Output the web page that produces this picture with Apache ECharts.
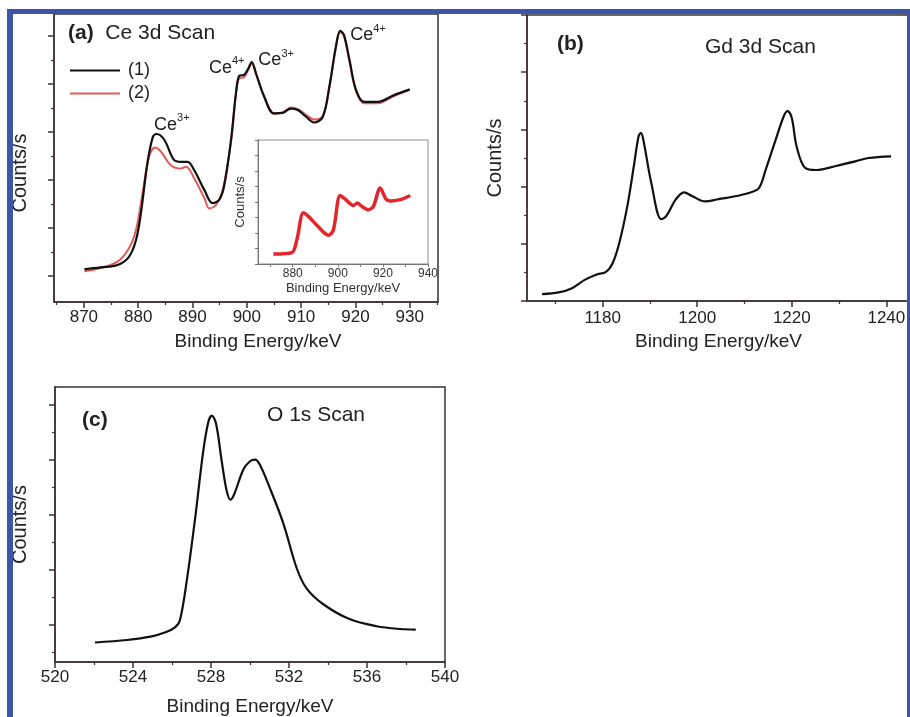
<!DOCTYPE html>
<html>
<head>
<meta charset="utf-8">
<script src="https://cdn.jsdelivr.net/npm/echarts@6.0.0/dist/echarts.min.js"></script>
<style>
  html, body { margin: 0; padding: 0; background: #fff; }
  #chart { width: 910px; height: 717px; }
</style>
</head>
<body>
<div id="chart"></div>
<script>
// (a) Ce 3d, curve (1) black and (2) red
const ceEnergy1 = [870.1, 873.1, 876.2, 878.3, 879.6, 880.5, 881.7, 882.7, 883.4, 884.8, 886.6, 887.9, 889.1, 890.3, 892.2, 893.7, 894.9, 895.8, 897.1, 898.0, 898.6, 899.5, 900.3, 900.9, 901.7, 903.2, 905.0, 906.6, 908.1, 909.4, 910.9, 912.4, 914.0, 915.2, 916.4, 917.2, 917.9, 918.9, 920.1, 921.6, 924.1, 927.1, 930.0];
const ceCounts1 = [0.68, 0.72, 0.77, 0.94, 1.29, 1.85, 2.89, 3.44, 3.50, 3.38, 2.96, 2.92, 2.92, 2.75, 2.33, 2.06, 2.13, 2.40, 3.38, 4.35, 4.71, 4.73, 4.87, 5.00, 4.76, 4.28, 3.93, 3.94, 4.03, 4.00, 3.86, 3.74, 3.86, 4.49, 5.32, 5.65, 5.56, 5.04, 4.42, 4.17, 4.17, 4.31, 4.43];
const ceEnergy2 = [870.1, 873.1, 876.2, 878.3, 879.6, 880.8, 882.0, 883.1, 884.2, 886.0, 887.9, 888.8, 890.3, 892.2, 893.1, 894.3, 895.5, 897.1, 898.0, 898.6, 899.5, 900.3, 900.9, 901.7, 903.2, 905.0, 906.6, 908.1, 909.4, 910.9, 912.4, 914.0, 915.2, 916.4, 917.2, 917.9, 918.9, 920.1, 921.6, 924.1, 927.1, 930.0];
const ceCounts2 = [0.64, 0.71, 0.84, 1.12, 1.50, 2.26, 3.03, 3.22, 3.13, 2.85, 2.78, 2.82, 2.58, 2.16, 1.95, 2.02, 2.30, 3.35, 4.33, 4.66, 4.68, 4.85, 4.98, 4.75, 4.27, 3.92, 3.95, 4.05, 4.02, 3.90, 3.80, 3.88, 4.47, 5.30, 5.63, 5.54, 5.02, 4.40, 4.14, 4.14, 4.29, 4.42];
const ceTicks = [870, 880, 890, 900, 910, 920, 930];
const ceMinorTicks = [865, 875, 885, 895, 905, 915, 925, 935];
const ceCountTicks = [0.54, 1.54, 2.54, 3.54, 4.54, 5.54];
const ceCountMinorTicks = [1.04, 2.04, 3.04, 4.04, 5.04];

// peak labels in (a)
const peakIon = ["3+", "4+", "3+", "4+"];
const peakEnergy = [886.2, 896.3, 905.4, 922.3];
const peakCounts = [3.69, 4.88, 5.04, 5.56];

// inset of (a)
const insetEnergy = [871.4, 879.6, 881.8, 884.7, 886.9, 890.7, 895.8, 898.0, 901.0, 903.2, 906.9, 908.7, 910.6, 913.6, 915.8, 918.8, 921.3, 923.2, 927.7, 932.1];
const insetCounts = [0.64, 0.73, 1.54, 3.30, 3.08, 2.50, 1.86, 2.18, 4.42, 4.20, 3.78, 3.93, 3.72, 3.50, 3.72, 4.91, 4.20, 4.06, 4.15, 4.42];
const insetTicks = [880, 900, 920, 940];
const insetMinorTicks = [870, 890, 910, 930];

// (b) Gd 3d
const gdEnergy = [1167.2, 1170.7, 1173.4, 1176.2, 1178.6, 1180.7, 1182.1, 1183.5, 1185.2, 1186.6, 1187.6, 1188.1, 1188.6, 1190.3, 1192.4, 1193.4, 1195.5, 1197.2, 1199.0, 1201.7, 1204.5, 1208.6, 1211.4, 1213.1, 1214.5, 1216.6, 1218.3, 1219.1, 1220.0, 1221.0, 1222.8, 1225.2, 1229.3, 1233.4, 1236.2, 1241.0];
const gdCounts = [0.12, 0.15, 0.22, 0.37, 0.46, 0.51, 0.66, 1.01, 1.65, 2.36, 2.88, 2.94, 2.82, 2.06, 1.43, 1.48, 1.78, 1.90, 1.83, 1.74, 1.78, 1.84, 1.90, 1.98, 2.30, 2.82, 3.23, 3.32, 3.20, 2.71, 2.33, 2.29, 2.36, 2.44, 2.50, 2.53];
const gdTicks = [1180, 1200, 1220, 1240];
const gdMinorTicks = [1170, 1190, 1210, 1230];
const gdCountTicks = [0, 1, 2, 3, 4, 5];
const gdCountMinorTicks = [0.5, 1.5, 2.5, 3.5, 4.5];

// (c) O 1s
const oEnergy = [522.05, 523.7, 524.9, 525.7, 526.15, 526.4, 526.75, 527.2, 527.6, 527.86, 528.04, 528.26, 528.55, 528.8, 529.0, 529.2, 529.66, 530.0, 530.26, 530.5, 531.0, 531.7, 532.4, 532.9, 533.76, 535.1, 536.5, 537.7, 538.5];
const oCounts = [0.355, 0.40, 0.46, 0.545, 0.63, 0.75, 1.46, 2.65, 3.83, 4.36, 4.48, 4.33, 3.65, 3.12, 2.95, 3.06, 3.50, 3.65, 3.68, 3.59, 3.18, 2.53, 1.70, 1.34, 1.05, 0.78, 0.65, 0.60, 0.59];
const oTicks = [520, 524, 528, 532, 536, 540];
const oMinorTicks = [522, 526, 530, 534, 538];
const oCountTicks = [0.675, 1.675, 2.675, 3.675, 4.675];
const oCountMinorTicks = [0.175, 1.175, 2.175, 3.175, 4.175];

const FONT = "Liberation Sans, Arial, sans-serif";
const AXIS = "#3b3232";
const TEXT = "#222";
const FRAME = "#3d55a8";

const zip = (xs, ys) => xs.map((x, i) => [x, ys[i]]);

const majorAxis = (gridIndex, min, max, ticks, extra) =>
  Object.assign(
    {
      gridIndex,
      type: "value",
      min,
      max,
      axisLine: { show: true, lineStyle: { color: AXIS, width: 1.5 } },
      axisTick: { customValues: ticks, length: 6, lineStyle: { color: AXIS, width: 1.5 } },
      axisLabel: { show: false },
      splitLine: { show: false },
      nameLocation: "middle",
      nameTextStyle: { color: TEXT, fontFamily: FONT, fontSize: 19 },
    },
    extra
  );

const minorAxis = (gridIndex, min, max, ticks, position) => ({
  gridIndex,
  type: "value",
  min,
  max,
  position,
  axisLine: { show: false },
  axisTick: { customValues: ticks, length: 3, lineStyle: { color: AXIS, width: 1.2 } },
  axisLabel: { show: false },
  splitLine: { show: false },
});

const tickLabels = (values, size, margin) => ({
  customValues: values,
  formatter: (v) => String(v),
  color: TEXT,
  fontFamily: FONT,
  fontSize: size,
  margin,
});

const chart = echarts.init(document.getElementById("chart"));

chart.setOption({
  backgroundColor: "#fff",
  animation: false,
  textStyle: { fontFamily: FONT },
  title: [
    {
      text: "{b|(a)}  Ce 3d Scan",
      left: 68,
      top: 23,
      padding: 0,
      textStyle: { fontSize: 21, fontWeight: "normal", color: TEXT, fontFamily: FONT, rich: { b: { fontSize: 21, fontWeight: "bold", color: TEXT, fontFamily: FONT } } },
    },
    { text: "(b)", left: 557, top: 34, padding: 0, textStyle: { fontSize: 21, fontWeight: "bold", color: TEXT, fontFamily: FONT } },
    { text: "Gd 3d Scan", left: 705, top: 37, padding: 0, textStyle: { fontSize: 21, fontWeight: "normal", color: TEXT, fontFamily: FONT } },
    { text: "(c)", left: 82, top: 410, padding: 0, textStyle: { fontSize: 21, fontWeight: "bold", color: TEXT, fontFamily: FONT } },
    { text: "O 1s Scan", left: 267, top: 405, padding: 0, textStyle: { fontSize: 21, fontWeight: "normal", color: TEXT, fontFamily: FONT } },
  ],
  legend: {
    data: ["(1)", "(2)"],
    orient: "vertical",
    left: 70,
    top: 61,
    padding: 0,
    icon: "rect",
    itemWidth: 50,
    itemHeight: 2,
    itemGap: 4,
    textStyle: { fontSize: 18, color: TEXT, fontFamily: FONT, lineHeight: 19, padding: [0, 0, 0, 3] },
  },
  grid: [
    { left: 54, top: 14, width: 384, height: 288, show: true, borderColor: AXIS, borderWidth: 1.5, backgroundColor: "transparent" },
    { left: 258, top: 140, width: 170, height: 124, show: true, borderColor: "#8a8a8a", borderWidth: 1, backgroundColor: "#fff" },
    { left: 527, top: 15, width: 392, height: 286, show: true, borderColor: AXIS, borderWidth: 1.5, backgroundColor: "transparent" },
    { left: 55, top: 387, width: 390, height: 282, show: true, borderColor: AXIS, borderWidth: 1.5, backgroundColor: "transparent" },
  ],
  xAxis: [
    majorAxis(0, 864.5, 935.2, ceTicks, {
      position: "bottom",
      axisLabel: tickLabels(ceTicks, 17, 7),
      name: "Binding Energy/keV",
      nameGap: 30,
      nameTextStyle: { color: TEXT, fontFamily: FONT, fontSize: 19, padding: [0, 0, 0, 24] },
    }),
    minorAxis(0, 864.5, 935.2, ceMinorTicks, "bottom"),
    {
      gridIndex: 1,
      type: "value",
      min: 864.6,
      max: 940,
      position: "bottom",
      axisLine: { show: true, lineStyle: { color: "#777", width: 1 } },
      axisTick: { customValues: insetTicks.concat(insetMinorTicks), length: 3, lineStyle: { color: "#777" } },
      axisLabel: { customValues: insetTicks, formatter: (v) => String(v), color: "#333", fontFamily: FONT, fontSize: 12, margin: 4 },
      splitLine: { show: false },
      name: "Binding Energy/keV",
      nameLocation: "middle",
      nameGap: 18,
      nameTextStyle: { color: "#333", fontFamily: FONT, fontSize: 13 },
    },
    majorAxis(2, 1164, 1245, gdTicks, {
      position: "bottom",
      axisLabel: tickLabels(gdTicks, 17, 9),
      name: "Binding Energy/keV",
      nameGap: 31,
    }),
    minorAxis(2, 1164, 1245, gdMinorTicks, "bottom"),
    majorAxis(3, 520, 540, oTicks, {
      position: "bottom",
      axisLabel: tickLabels(oTicks, 17, 7),
      name: "Binding Energy/keV",
      nameGap: 35,
    }),
    minorAxis(3, 520, 540, oMinorTicks, "bottom"),
  ],
  yAxis: [
    majorAxis(0, 0, 6, ceCountTicks, {
      position: "left",
      name: "Counts/s",
      nameGap: 24,
      nameTextStyle: { color: TEXT, fontFamily: FONT, fontSize: 20, padding: [0, 30, 0, 0] },
    }),
    minorAxis(0, 0, 6, ceCountMinorTicks, "left"),
    {
      gridIndex: 1,
      type: "value",
      min: 0,
      max: 8,
      interval: 1,
      position: "left",
      axisLine: { show: true, lineStyle: { color: "#777", width: 1 } },
      axisTick: { length: 3, lineStyle: { color: "#777" } },
      axisLabel: { show: false },
      splitLine: { show: false },
      name: "Counts/s",
      nameLocation: "middle",
      nameGap: 11,
      nameTextStyle: { color: "#333", fontFamily: FONT, fontSize: 13 },
    },
    majorAxis(2, 0, 5, gdCountTicks, {
      position: "left",
      name: "Counts/s",
      nameGap: 22,
      nameTextStyle: { color: TEXT, fontFamily: FONT, fontSize: 20 },
    }),
    minorAxis(2, 0, 5, gdCountMinorTicks, "left"),
    majorAxis(3, 0, 5, oCountTicks, {
      position: "left",
      name: "Counts/s",
      nameGap: 25,
      nameTextStyle: { color: TEXT, fontFamily: FONT, fontSize: 20 },
    }),
    minorAxis(3, 0, 5, oCountMinorTicks, "left"),
  ],
  series: [
    {
      name: "(2)",
      type: "line",
      xAxisIndex: 0,
      yAxisIndex: 0,
      data: zip(ceEnergy2, ceCounts2),
      smooth: 0.35,
      symbol: "none",
      lineStyle: { color: "#e35a5a", width: 2 },
      itemStyle: { color: "#e35a5a" },
      z: 2,
    },
    {
      name: "(1)",
      type: "line",
      xAxisIndex: 0,
      yAxisIndex: 0,
      data: zip(ceEnergy1, ceCounts1),
      smooth: 0.35,
      symbol: "none",
      lineStyle: { color: "#111", width: 2.2 },
      itemStyle: { color: "#111" },
      z: 3,
      markPoint: {
        symbol: "circle",
        symbolSize: 0,
        silent: true,
        label: {
          show: true,
          position: "inside",
          formatter: (p) => `{c|Ce}{s|${p.name}}`,
          rich: {
            c: { fontSize: 18, color: TEXT, fontFamily: FONT, lineHeight: 24 },
            s: { fontSize: 11, color: TEXT, fontFamily: FONT, verticalAlign: "top" },
          },
        },
        data: peakIon.map((ion, i) => ({ name: ion, coord: [peakEnergy[i], peakCounts[i]] })),
      },
    },
    {
      name: "inset",
      type: "line",
      xAxisIndex: 2,
      yAxisIndex: 2,
      data: zip(insetEnergy, insetCounts),
      smooth: 0.3,
      symbol: "none",
      lineStyle: { color: "#e3262b", width: 3.5 },
    },
    {
      name: "Gd 3d",
      type: "line",
      xAxisIndex: 3,
      yAxisIndex: 3,
      data: zip(gdEnergy, gdCounts),
      smooth: 0.35,
      symbol: "none",
      lineStyle: { color: "#111", width: 2.2 },
    },
    {
      name: "O 1s",
      type: "line",
      xAxisIndex: 5,
      yAxisIndex: 5,
      data: zip(oEnergy, oCounts),
      smooth: 0.35,
      symbol: "none",
      lineStyle: { color: "#111", width: 2.2 },
    },
  ],
  graphic: [
    { type: "rect", z: 100, shape: { x: 7, y: 9, width: 903, height: 5 }, style: { fill: FRAME } },
    { type: "rect", z: 100, shape: { x: 7, y: 9, width: 6, height: 708 }, style: { fill: FRAME } },
    { type: "rect", z: 100, shape: { x: 907, y: 9, width: 3, height: 708 }, style: { fill: FRAME } },
  ],
});

window.addEventListener("resize", () => chart.resize());
</script>
</body>
</html>
